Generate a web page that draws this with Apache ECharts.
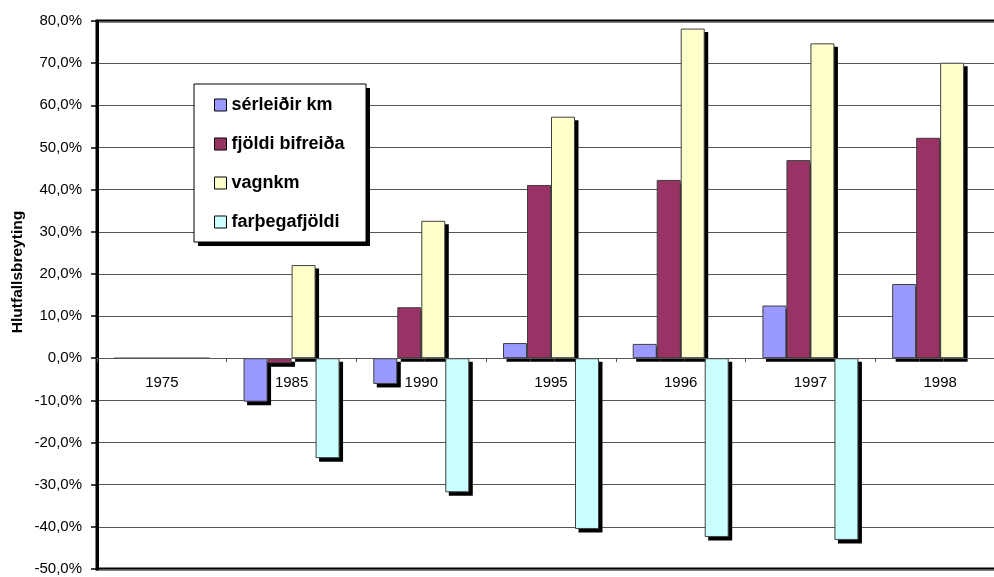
<!DOCTYPE html>
<html>
<head>
<meta charset="utf-8">
<script src="https://cdn.jsdelivr.net/npm/echarts@6/dist/echarts.min.js"></script>
<style>
html,body{margin:0;padding:0;background:#fff;}
#chart{width:994px;height:577px;}
</style>
</head>
<body>
<div id="chart"></div>
<script>
var categories = ['1975', '1985', '1990', '1995', '1996', '1997', '1998'];
var serleidirKm = [0, -10.3, -6.1, 3.6, 3.4, 12.5, 17.6];
var fjoldiBifreida = [0, -1.2, 12.1, 41.1, 42.3, 47.0, 52.3];
var vagnkm = [0, 22.1, 32.6, 57.3, 78.2, 74.7, 70.1];
var farthegafjoldi = [0, -23.7, -31.8, -40.5, -42.4, -43.1, null];
var seriesNames = ['sérleiðir km', 'fjöldi bifreiða', 'vagnkm', 'farþegafjöldi'];
var seriesColors = ['#9999FF', '#993366', '#FFFFCC', '#CCFFFF'];
var yAxisTitle = 'Hlutfallsbreyting';
var yMin = -50, yMax = 80, yStep = 10;

var allData = [serleidirKm, fjoldiBifreida, vagnkm, farthegafjoldi];
var chart = echarts.init(document.getElementById('chart'), null, {renderer: 'canvas'});
var font = 'Liberation Sans, Arial, sans-serif';
var G = {left: 97, top: 21, width: 908, height: 548};
var SH = 3.5; // drop shadow offset
// category axis sits on the zero line: shift it up from the grid bottom
var zeroOffset = -G.height * (0 - yMin) / (yMax - yMin);

var series = [];
allData.forEach(function (d, i) {
  series.push({
    name: '_shadow' + i, type: 'bar', data: d,
    xAxisIndex: 1, yAxisIndex: 1,
    barGap: 0, barCategoryGap: '26%',
    itemStyle: {color: '#000'},
    z: 1, silent: true, emphasis: {disabled: true}
  });
});
allData.forEach(function (d, i) {
  series.push({
    name: seriesNames[i], type: 'bar', data: d,
    xAxisIndex: 0, yAxisIndex: 0,
    barGap: 0, barCategoryGap: '26%',
    itemStyle: {color: seriesColors[i], borderColor: '#404040', borderWidth: 1},
    z: 3, emphasis: {disabled: true}
  });
});

var option = {
  animation: false,
  grid: [
    {left: G.left, top: G.top, width: G.width, height: G.height, outerBoundsMode: 'none', containLabel: false,
     show: true, borderColor: '#000', borderWidth: 3, backgroundColor: 'transparent'},
    {left: G.left + SH, top: G.top + SH, width: G.width, height: G.height, outerBoundsMode: 'none', containLabel: false,
     show: false}
  ],
  graphic: [
    {type: 'rect', z: 10, shape: {x: 198, y: 88, width: 172, height: 158}, style: {fill: '#000'}},
    {type: 'rect', z: 11, shape: {x: 194, y: 84, width: 172, height: 158}, style: {fill: '#fff', stroke: '#000', lineWidth: 1}},
    {type: 'text', z: 12, x: 18, y: 272, rotation: Math.PI / 2,
     style: {text: yAxisTitle, font: 'bold 15.5px ' + font, fill: '#000', textAlign: 'center', textVerticalAlign: 'middle'}}
  ],
  legend: {
    z: 20,
    orient: 'vertical',
    left: 214, top: 96,
    padding: 0,
    itemWidth: 12, itemHeight: 12,
    itemGap: 21,
    icon: 'rect',
    data: seriesNames,
    itemStyle: {borderColor: '#000', borderWidth: 1},
    textStyle: {fontFamily: font, fontSize: 18, fontWeight: 'bold', color: '#000', lineHeight: 18},
    selectedMode: false
  },
  xAxis: [
    {
      type: 'category', gridIndex: 0, position: 'bottom',
      data: categories,
      offset: zeroOffset,
      z: 4,
      axisLine: {onZero: false, lineStyle: {color: '#555', width: 1}},
      axisTick: {show: true, length: 4, lineStyle: {color: '#555'}},
      axisLabel: {fontFamily: font, fontSize: 15, color: '#000', margin: 17},
      splitLine: {show: false}
    },
    {
      type: 'category', gridIndex: 1, data: categories, show: false
    }
  ],
  yAxis: [
    {
      type: 'value', gridIndex: 0,
      min: yMin, max: yMax, interval: yStep,
      axisLine: {show: true, lineStyle: {color: '#000', width: 3}},
      axisTick: {show: true, length: 6, lineStyle: {color: '#000', width: 1.5}},
      axisLabel: {fontFamily: font, fontSize: 15, color: '#000', margin: 15,
        formatter: function (v) { return v.toFixed(1).replace('.', ',') + '%'; }},
      splitLine: {show: true, lineStyle: {color: '#555', width: 1}}
    },
    {
      type: 'value', gridIndex: 1, min: yMin, max: yMax, interval: yStep, show: false,
      splitLine: {show: false}
    }
  ],
  series: series
};
chart.setOption(option);
</script>
</body>
</html>
